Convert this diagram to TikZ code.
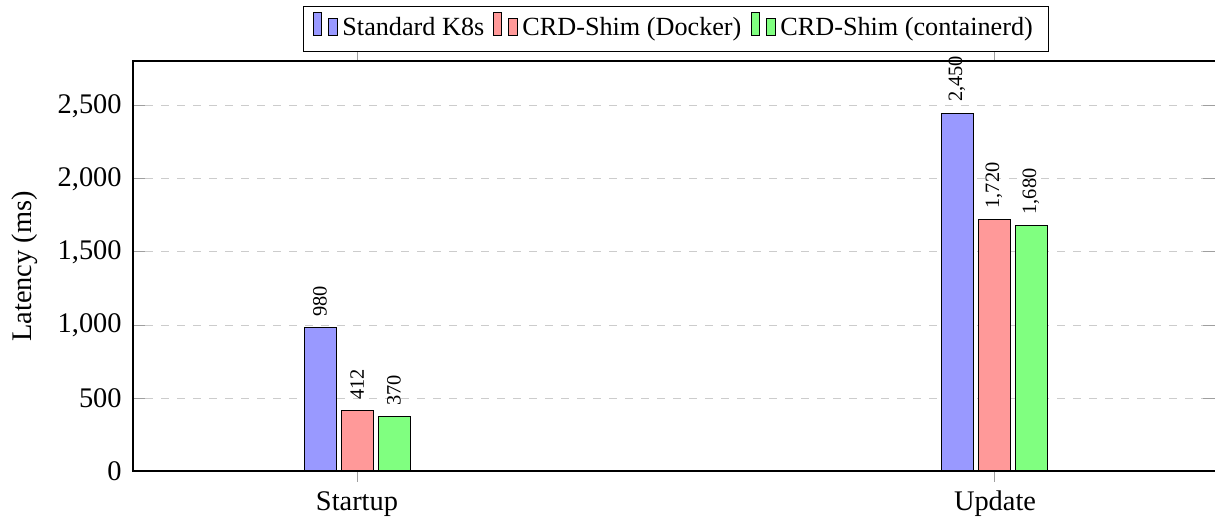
\documentclass[tikz,border=0pt]{standalone}
\usepackage{fontspec}
\setmainfont{Liberation Serif}
\begin{document}
\begin{tikzpicture}[x=0.5pt,y=-0.5pt,
  barbox/.style={draw=black, line width=0.5pt},
  gridline/.style={draw=gray!40, line width=0.5pt, dash pattern=on 4pt off 4pt},
  axisline/.style={draw=black, line width=0.6pt},
  tickmark/.style={draw=gray!75, line width=0.5pt},
  vallabel/.style={rotate=90, anchor=west, inner sep=0pt, font=\fontsize{10.2}{12}\selectfont},
  ticklabel/.style={inner sep=0pt, font=\fontsize{14.2}{16}\selectfont},
  legtext/.style={anchor=base west, inner sep=0pt, font=\fontsize{13.1}{15}\selectfont},
  legbox/.style={draw=black, fill=white, line width=0.5pt},
  blueF/.style={fill=blue!40},
  redF/.style={fill=red!40},
  greenF/.style={fill=green!50}
]
\useasboundingbox (0,0) rectangle (1215,518);

% grid and y ticks
\foreach \yy in {398,325,252,179,106}{
  \draw[gridline] (145,\yy) -- (1203,\yy);
  \draw[tickmark] (133,\yy) -- (145,\yy);
  \draw[tickmark] (1203,\yy) -- (1215,\yy);
}

% bars
\newcommand\mybar[4]{%
  \draw[barbox,#3] ({#1-16},{471-#2*0.146}) rectangle ({#1+16},471);
  \node[vallabel] (v#1) at (#1,{471-#2*0.146-11}) {#4};
}
\mybar{320}{980}{blueF}{980}
\mybar{357}{412}{redF}{412}
\mybar{394}{370}{greenF}{370}
\mybar{957}{2450}{blueF}{2,450}
\mybar{994}{1720}{redF}{1,720}
\mybar{1031}{1680}{greenF}{1,680}

% x ticks
\foreach \xx in {357,994}{
  \draw[tickmark] (\xx,471) -- (\xx,482);
  \draw[tickmark] (\xx,61) -- (\xx,52);
}

% axes
\draw[axisline] (1215,61) -- (133,61) -- (133,471) -- (1215,471);

% tick labels
\node[ticklabel, anchor=east] (y0) at (122,471) {0};
\node[ticklabel, anchor=east] (y1) at (122,398) {500};
\node[ticklabel, anchor=east] (y2) at (122,325) {1,000};
\node[ticklabel, anchor=east] (y3) at (122,252) {1,500};
\node[ticklabel, anchor=east] (y4) at (122,179) {2,000};
\node[ticklabel, anchor=east] (y5) at (122,106) {2,500};
\node[ticklabel, anchor=base] (xs) at (357,510) {Startup};
\node[ticklabel, anchor=base] (xu) at (995,510) {Update};
\node[ticklabel, rotate=90] (ylab) at (24.5,266.5) {Latency (ms)};

% legend
\draw[legbox] (303,7) rectangle (1048,52);
\newcommand\legimg[2]{%
  \draw[barbox,#2] (#1,13) rectangle ({#1+8},36);
  \draw[barbox,#2] ({#1+15},19) rectangle ({#1+24},36);
}
\legimg{313}{blueF}
\node[legtext] (leg1) at (342,36) {Standard K8s};
\legimg{493}{redF}
\node[legtext] (leg2) at (522,36) {CRD-Shim (Docker)};
\legimg{751}{greenF}
\node[legtext] (leg3) at (780,36) {CRD-Shim (containerd)};
\end{tikzpicture}
\end{document}
